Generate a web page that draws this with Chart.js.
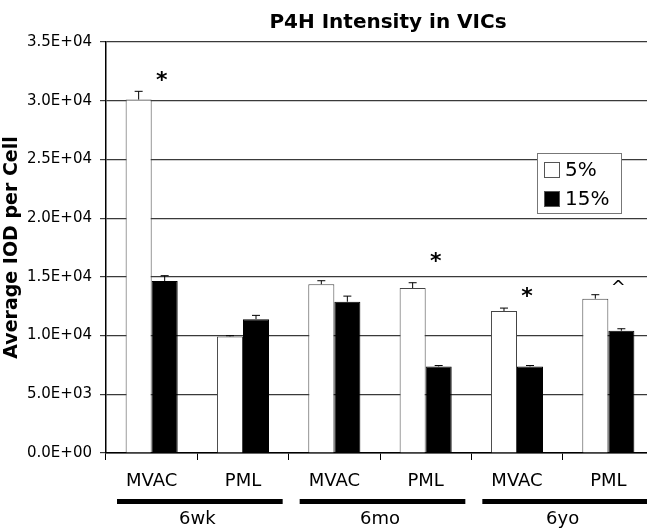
<!DOCTYPE html>
<html>
<head>
<meta charset="utf-8">
<script src="https://cdn.jsdelivr.net/npm/chart.js@4"></script>
<style>
  html, body { margin: 0; padding: 0; background: #fff; overflow: hidden; }
</style>
</head>
<body>
<canvas id="grafico" width="656" height="530"></canvas>
<script>
// dados
const categorias = ['MVAC', 'PML', 'MVAC', 'PML', 'MVAC', 'PML']
const grupos = ['6wk', '6mo', '6yo']
const series = ['5%', '15%']
const valores5 = [30100, 9930, 14370, 14050, 12090, 13140]
const erros5 = [700, 60, 300, 450, 250, 340]
const valores15 = [14650, 11400, 12880, 7370, 7370, 10410]
const erros15 = [450, 320, 480, 80, 80, 170]
// marcas de significancia (em cima da barra de 15%)
const marcas = ['*', '', '', '*', '*', '^']
const alturaMarcas = [31650, null, null, 16200, 13250, 14000]

const fonte = 'DejaVu Sans, Verdana, sans-serif'

// desenha barras de erro, marcas, grupos, legenda e titulo
const extras = {
    id: 'extras',
    afterDatasetsDraw(chart) {
        const ctx = chart.ctx
        const y = chart.scales.y
        const x = chart.scales.x
        const area = chart.chartArea
        const erros = [erros5, erros15]

        ctx.save()
        // barras de erro (so para cima)
        chart.data.datasets.forEach((ds, d) => {
            chart.getDatasetMeta(d).data.forEach((bar, i) => {
                const topo = y.getPixelForValue(ds.data[i] + erros[d][i])
                ctx.strokeStyle = '#000'
                ctx.lineWidth = 1
                ctx.beginPath()
                ctx.moveTo(bar.x, bar.y)
                ctx.lineTo(bar.x, topo)
                ctx.moveTo(bar.x - 4, topo)
                ctx.lineTo(bar.x + 4, topo)
                ctx.stroke()
            })
        })

        // asteriscos
        const meta15 = chart.getDatasetMeta(1)
        ctx.fillStyle = '#000'
        ctx.textAlign = 'center'
        ctx.textBaseline = 'middle'
        marcas.forEach((m, i) => {
            if (!m) return
            ctx.font = (m === '*' ? 'bold 22px ' : '18px ') + fonte
            ctx.fillText(m, meta15.data[i].x - 3, y.getPixelForValue(alturaMarcas[i]))
        })

        // grupos embaixo do eixo
        grupos.forEach((g, k) => {
            const esq = x.getPixelForValue(k * 2) - x.width / categorias.length / 2
            const dir = esq + x.width / categorias.length * 2
            ctx.fillRect(esq + 11, area.bottom + 46, dir - esq - 17, 5)
            ctx.font = '18px ' + fonte
            ctx.fillText(g, (esq + dir) / 2, area.bottom + 66)
        })

        // titulo
        ctx.font = 'bold 20px ' + fonte
        ctx.fillText('P4H Intensity in VICs', (area.left + area.right) / 2 + 8, 23)

        // legenda
        const lx = area.right - 117, ly = area.top + 111
        ctx.fillStyle = '#fff'
        ctx.fillRect(lx, ly, 84, 60)
        ctx.strokeStyle = '#777'
        ctx.strokeRect(lx + 0.5, ly + 0.5, 84, 60)
        chart.data.datasets.forEach((ds, d) => {
            const cy = ly + 17 + d * 29
            ctx.fillStyle = ds.backgroundColor
            ctx.fillRect(lx + 7, cy - 8, 16, 16)
            ctx.strokeStyle = '#555'
            ctx.strokeRect(lx + 7.5, cy - 7.5, 15, 15)
            ctx.fillStyle = '#000'
            ctx.textAlign = 'left'
            ctx.font = '20px ' + fonte
            ctx.fillText(ds.label, lx + 28, cy + 1)
        })
        ctx.restore()
    }
}

new Chart(document.getElementById('grafico'), {
    type: 'bar',
    data: {
        labels: categorias,
        datasets: [{
            label: series[0],
            data: valores5,
            backgroundColor: '#fff',
            borderColor: '#444',
            borderWidth: 1
        },
        {
            label: series[1],
            data: valores15,
            backgroundColor: '#000',
            borderColor: '#000',
            borderWidth: 1
        }]
    },
    options: {
        responsive: false,
        animation: false,
        layout: { padding: { top: 42, right: 2, left: 0, bottom: 0 } },
        datasets: { bar: { categoryPercentage: 0.57, barPercentage: 1.0 } },
        plugins: {
            legend: { display: false },
            tooltip: { enabled: false }
        },
        scales: {
            x: {
                offset: true,
                grid: { offset: true, drawOnChartArea: false, drawTicks: true, tickLength: 7, color: '#000' },
                border: { color: '#000', width: 1.5 },
                ticks: { color: '#000', font: { family: fonte, size: 18 }, padding: 11, maxRotation: 0, autoSkip: false },
                afterFit: (s) => { s.height = 77 }
            },
            y: {
                min: 0,
                max: 35000,
                grid: { color: '#3a3a3a', lineWidth: 1.2, tickLength: 6 },
                border: { color: '#000', width: 1.5 },
                ticks: {
                    stepSize: 5000,
                    color: '#000',
                    padding: 8,
                    font: { family: fonte, size: 15 },
                    callback: (v) => {
                        const e = Math.floor(Math.log10(v || 1))
                        const m = v ? v / Math.pow(10, e) : 0
                        return m.toFixed(1) + 'E+' + String(v ? e : 0).padStart(2, '0')
                    }
                },
                title: {
                    display: true,
                    text: 'Average IOD per Cell',
                    color: '#000',
                    font: { family: fonte, size: 19, weight: 'bold' },
                    padding: { top: 1, bottom: 0 }
                },
                afterFit: (s) => { s.width = 106 }
            }
        }
    },
    plugins: [extras]
})
</script>
</body>
</html>
